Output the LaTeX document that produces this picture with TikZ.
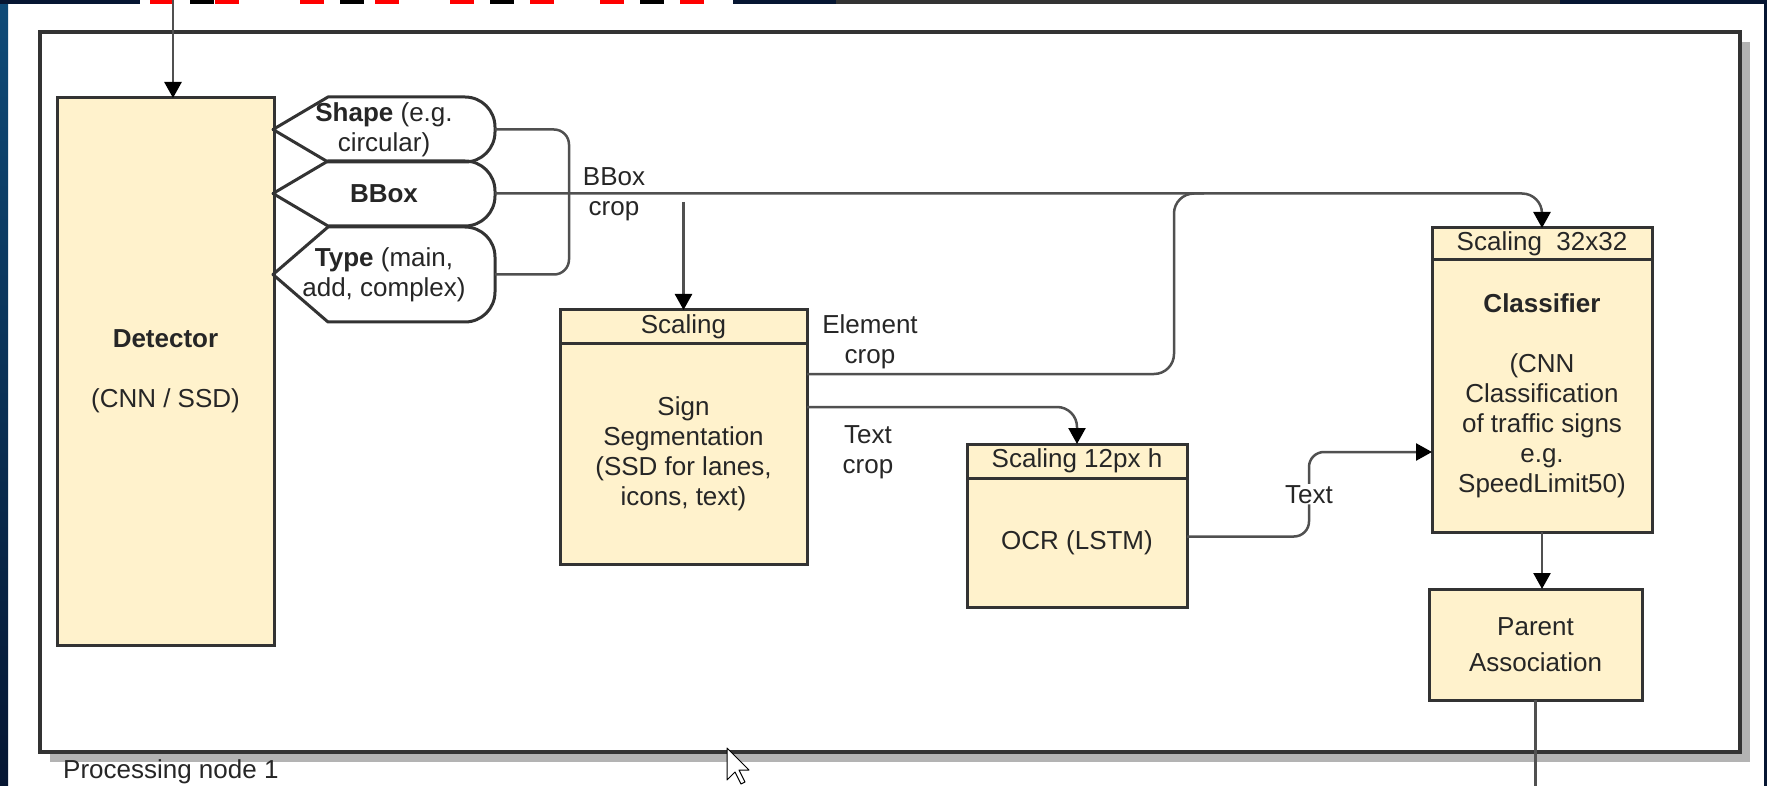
\documentclass[tikz,border=0pt]{standalone}
\usepackage{fontspec}
\setmainfont{Liberation Sans}
\usetikzlibrary{arrows.meta}

\definecolor{boxfill}{RGB}{255,242,204}
\definecolor{edge}{RGB}{51,51,51}
\definecolor{wire}{RGB}{80,80,80}
\definecolor{shadowgray}{RGB}{179,179,179}
\definecolor{deskblue}{RGB}{6,22,50}

\begin{document}
\begin{tikzpicture}[x=1pt, y=-1pt, >={Triangle[length=16pt,width=17pt,color=black]},
    font=\fontsize{26}{30}\selectfont, text=black!85,
    box/.style={rectangle, draw=edge, line width=3pt, fill=boxfill, outer sep=0pt, inner sep=0pt, align=center},
    hexlbl/.style={align=center, minimum width=222pt, inner sep=0pt, outer sep=0pt},
    hexline/.style={draw=edge, line width=3pt, line join=round},
    conn/.style={draw=wire, line width=2.5pt},
    lbl/.style={align=center, inner sep=1pt}]
            \useasboundingbox (0,0) rectangle (1767,786);

            % screen around the page
            \fill[white] (0,0) rectangle (1767,786);
            \shade[top color={rgb,255:red,15;green,75;blue,120}, bottom color=deskblue] (0,0) rectangle (8,786);
            \fill[deskblue] (0,0) rectangle (140,4);
            \fill[white] (140,0) rectangle (733,4);
            \foreach \x/\c in {150/red, 190/black, 215/red, 300/red, 340/black, 375/red, 450/red, 490/black, 530/red, 600/red, 640/black, 680/red} {
                \fill[\c] (\x,0) rectangle +(24,4);
            }
            \fill[deskblue] (733,0) rectangle (836,4);
            \fill[black!80] (836,0) rectangle (1560,4);
            \fill[deskblue] (1560,0) rectangle (1767,4);
            \fill[deskblue] (1764,0) rectangle (1767,786);

            % processing node frame
            \fill[shadowgray] (50,42) rectangle (1750,762);
            \draw[draw=edge, line width=4.5pt, fill=white] (40,32) rectangle (1740,752);
            \node[anchor=west, inner sep=0pt] (pname) at (63,772) {Processing node 1};

            % boxes
            \node[box, minimum width=217pt, minimum height=547pt] (det) at (165.5,371.5) {\textbf{Detector}\\[30pt](CNN / SSD)};

            \node[hexlbl, minimum height=65pt] (shp) at (384,129.5) {\textbf{Shape} (e.g.\\circular)};
            \node[hexlbl, minimum height=65pt] (bbox) at (384,193.5) {\textbf{BBox}};
            \node[hexlbl, minimum height=95pt] (typ) at (384,274.5) {\textbf{Type} (main,\\add, complex)};
            \foreach \n in {shp, bbox, typ} {
                \draw[hexline] (\n.west) -- ([xshift=55pt]\n.north west)
                    [rounded corners=30pt] -- (\n.north east) -- (\n.south east)
                    [sharp corners] -- ([xshift=55pt]\n.south west) -- cycle;
            }

            \node[box, minimum width=247pt, minimum height=33pt] (segh) at (683.5,326.5) {Scaling};
            \node[box, minimum width=247pt, minimum height=221pt, anchor=north] (seg) at (segh.south) {Sign\\Segmentation\\(SSD for lanes,\\icons, text)};

            \node[box, minimum width=220pt, minimum height=34pt] (ocrh) at (1077,461) {Scaling 12px h};
            \node[box, minimum width=220pt, minimum height=129pt, anchor=north] (ocr) at (ocrh.south) {OCR (LSTM)};

            \node[box, minimum width=220pt, minimum height=32pt] (clsh) at (1542,244) {Scaling\ \ 32x32};
            \node[box, minimum width=220pt, minimum height=272pt, anchor=north] (cls) at (clsh.south) {\textbf{Classifier}\\[30pt](CNN\\Classification\\of traffic signs\\e.g.\\SpeedLimit50)};

            \node[box, minimum width=213pt, minimum height=111pt] (par) at (1535.5,644.5) {Parent\\[6pt]Association};

            % edge labels
            \node[lbl] (bboxlbl) at (614,194) {BBox\\crop};
            \node[lbl] (ellbl) at (870,342) {Element\\crop};
            \node[lbl] (txlbl) at (868,452) {Text\\crop};

            % connectors
            \coordinate (feed) at (173,0);
            \draw[conn, ->] (feed) -- (feed |- det.north);

            \draw[conn, rounded corners=15pt] (shp.east) -- ++(74,0) |- (typ.east);
            \draw[conn, ->, rounded corners=20pt] (bbox.east) -| (clsh.north);

            \coordinate (bcrop) at (683.5,202);
            \draw[conn, ->] (bcrop) -- (segh.north);

            \coordinate (merge) at (1174,193.5);
            \draw[conn, rounded corners=20pt] ([yshift=-31pt]seg.north east) -| (merge) -- ++(30,0);
            \draw[conn, ->, rounded corners=20pt] ([yshift=-64pt]seg.north east) -| (ocrh.north);

            \coordinate (tbend) at (1309,452);
            \draw[conn, ->, rounded corners=15pt] ([yshift=6pt]ocr.east) -| node[lbl, fill=white, pos=0.75] (txt) {Text} (tbend) -- (tbend -| cls.west);

            \draw[conn, ->] (cls.south) -- (cls.south |- par.north);
            \coordinate (pout) at (1535.5,786);
            \draw[conn] (par.south) -- (pout);

            % mouse pointer
            \filldraw[fill=white, draw=black, line width=1pt, line join=round] (727,748) -- ++(0,32) -- ++(8,-8) -- ++(6,12) -- ++(4,-2) -- ++(-6,-12) -- ++(10,0) -- cycle;
        \end{tikzpicture}
\end{document}
